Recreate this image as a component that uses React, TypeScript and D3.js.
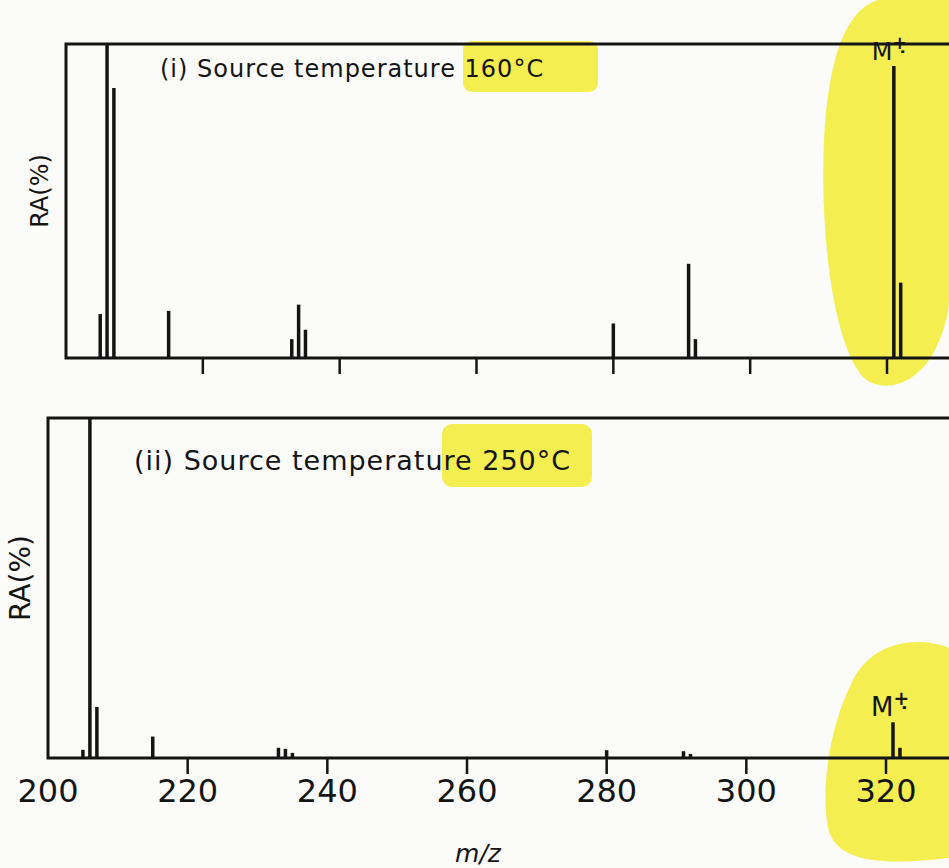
import React from "react";
import * as d3 from "d3";

// m/z positions of the peaks (same fragments in both spectra)
const peakMz = [205, 206, 207, 215, 233, 234, 235, 280, 291, 292, 321, 322];
// relative abundance (%)
const ra160 = [14, 100, 86, 15, 6, 17, 9, 11, 30, 6, 93, 24];
const ra250 = [2.4, 100, 15, 6.3, 3, 2.7, 1.5, 2.3, 2, 1.2, 10.5, 3];

const tickValues = [200, 220, 240, 260, 280, 300, 320];
const tickLabels = ["200", "220", "240", "260", "280", "300", "320"];

const titles = ["(i) Source temperature 160°C", "(ii) Source temperature 250°C"];
const molIonMz = 321;

const W = 949;
const H = 868;
const font = "DejaVu Sans";
const ink = "#141414";
const marker = "#f4ec3e";

const panels = [
  { ra: ra160, left: 66, right320: 887, top: 44, base: 358, title: titles[0], tx: 160, ty: 77, fs: 24, raX: 48, raY: 191, raFs: 24, mFs: 24 },
  { ra: ra250, left: 48, right320: 886, top: 418, base: 758, title: titles[1], tx: 134, ty: 470, fs: 27, raX: 30, raY: 578, raFs: 28, mFs: 26 },
];

const Panel = ({ p, idx }) => {
  const x = d3.scaleLinear().domain([200, 320]).range([p.left, p.right320]);
  const y = d3.scaleLinear().domain([0, 100]).range([p.base, p.top]);
  const mTop = y(p.ra[peakMz.indexOf(molIonMz)]);
  return (
    <g>
      {/* frame: left, top and baseline */}
      <path
        d={`M${W + 5},${p.top}H${p.left}V${p.base}H${W + 5}`}
        fill="none"
        stroke={ink}
        strokeWidth={3}
      />
      {tickValues.slice(1).map(t => (
        <line key={t} x1={x(t)} x2={x(t)} y1={p.base} y2={p.base + 16} stroke={ink} strokeWidth={2.5} />
      ))}
      {peakMz.map((m, i) => (
        <line key={m} x1={x(m)} x2={x(m)} y1={p.base} y2={y(p.ra[i])} stroke={ink} strokeWidth={3.5} />
      ))}
      <text x={p.tx} y={p.ty} fontFamily={font} fontSize={p.fs} letterSpacing={1} fill={ink}>
        {p.title}
      </text>
      <text
        transform={`translate(${p.raX},${p.raY}) rotate(-90)`}
        textAnchor="middle"
        fontFamily={font}
        fontSize={p.raFs}
        fill={ink}
      >
        RA(%)
      </text>
      <text x={x(molIonMz) - 22} y={mTop - 6} fontFamily={font} fontSize={p.mFs} fill={ink}>
        M
        <tspan dy={-11} fontSize={p.mFs * 0.72} fontWeight="bold">
          {"+\u0323"}
        </tspan>
      </text>
      {idx === 1 &&
        tickValues.map((t, i) => (
          <text key={t} x={x(t)} y={802} textAnchor="middle" fontFamily={font} fontSize={32} fill={ink}>
            {tickLabels[i]}
          </text>
        ))}
    </g>
  );
};

export default function App() {
  return (
    <svg width={W} height={H} style={{ position: "absolute", left: 0, top: 0 }}>
      <rect width={W} height={H} fill="#fbfbf9" />
      {/* highlighter marks */}
      <g fill={marker} opacity={0.9}>
        <rect x={463} y={41} width={135} height={51} rx={9} />
        <rect x={442} y={424} width={150} height={63} rx={10} />
        <path d="M949,0 L878,0 C845,10 828,60 824,140 C820,230 832,340 862,376 C880,394 915,388 935,350 C945,330 949,310 949,300 Z" />
        <path d="M949,648 C920,636 872,640 852,682 C832,722 820,782 828,828 C836,862 880,866 949,858 Z" />
      </g>
      {panels.map((p, i) => (
        <Panel key={i} p={p} idx={i} />
      ))}
      <text x={478} y={862} textAnchor="middle" fontFamily={font} fontSize={25} fontStyle="italic" fill={ink}>
        m/z
      </text>
    </svg>
  );
}
